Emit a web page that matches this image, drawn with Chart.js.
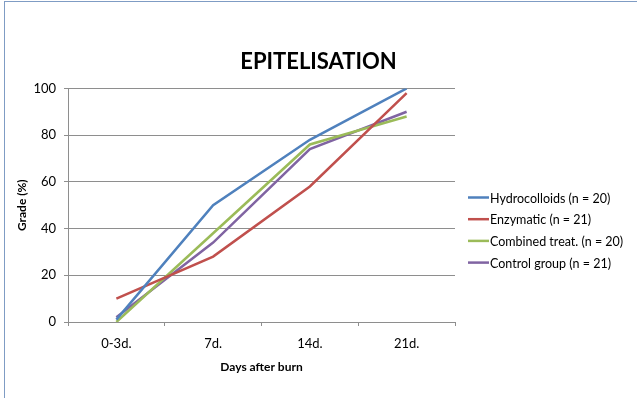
<!DOCTYPE html>
<html lang="en">
<head>
    <meta charset="UTF-8">
    <script src="https://cdn.jsdelivr.net/npm/chart.js@4"></script>
    <title>Epitelisation</title>
    <style>
        body {
            margin: 0;
            background: #ffffff;
            overflow: hidden;
        }
        .frame {
            position: absolute;
            left: 4px;
            top: 1px;
            width: 700px;
            height: 500px;
            border-left: 1px solid #7f9cc4;
            border-top: 1px solid #7f9cc4;
        }
        .chart-container {
            position: absolute;
            left: 0;
            top: 0;
            width: 637px;
            height: 398px;
        }
    </style>
</head>
<body>
    <div class="frame"></div>
    <div class="chart-container">
        <canvas id="myChart"></canvas>
    </div>

    <script>
        // data
        const days = ['0-3d.', '7d.', '14d.', '21d.'];
        const hydrocolloids = [1, 50, 78, 100];
        const enzymatic = [10, 28, 58, 98];
        const combined = [0, 38, 76, 88];
        const control = [2, 34, 74, 90];

        const seriesNames = ['Hydrocolloids (n = 20)', 'Enzymatic (n = 21)', 'Combined treat. (n = 20)', 'Control group (n = 21)'];
        const seriesColors = ['#4f81bd', '#c0504d', '#9bbb59', '#8064a2'];

        const fontFamily = 'Lato, "Open Sans", sans-serif';
        const gridGrey = '#8e8e8e';

        const data = {
            labels: days,
            datasets: [hydrocolloids, enzymatic, combined, control].map(function(vals, i) {
                return {
                    label: seriesNames[i],
                    data: vals,
                    borderColor: seriesColors[i],
                    backgroundColor: seriesColors[i],
                    borderWidth: 2.5,
                    pointRadius: 0,
                    tension: 0
                };
            })
        };

        // legend drawn to the right of the plot, like the office one
        const sideLegend = {
            id: 'sideLegend',
            afterDraw: function(chart) {
                const ctx = chart.ctx;
                const area = chart.chartArea;
                const x0 = area.right + 13;
                const y0 = 197.5;
                const rowH = 21.7;
                ctx.save();
                ctx.font = '12.5px ' + fontFamily;
                ctx.textBaseline = 'middle';
                ctx.textAlign = 'left';
                chart.data.datasets.forEach(function(ds, i) {
                    const y = y0 + i * rowH;
                    ctx.strokeStyle = ds.borderColor;
                    ctx.lineWidth = 2.5;
                    ctx.beginPath();
                    ctx.moveTo(x0, y);
                    ctx.lineTo(x0 + 21, y);
                    ctx.stroke();
                    ctx.fillStyle = '#000';
                    ctx.fillText(ds.label, x0 + 22, y + 1);
                });
                ctx.restore();
            }
        };

        const options = {
            responsive: true,
            maintainAspectRatio: false,
            animation: false,
            layout: {
                padding: 0
            },
            scales: {
                x: {
                    offset: true,
                    grid: {
                        offset: true,
                        drawOnChartArea: false,
                        drawTicks: true,
                        tickLength: 4,
                        color: gridGrey
                    },
                    border: { color: gridGrey },
                    ticks: {
                        color: '#000',
                        padding: 10,
                        maxRotation: 0,
                        font: { family: fontFamily, size: 13 }
                    },
                    title: {
                        display: true,
                        text: 'Days after burn',
                        color: '#000',
                        padding: { top: 0, bottom: 24 },
                        font: { family: fontFamily, size: 12, weight: 'bold' }
                    },
                    afterFit: function(scale) { scale.height = 76; }
                },
                y: {
                    min: 0,
                    max: 100,
                    grid: {
                        color: gridGrey,
                        tickLength: 4
                    },
                    border: { color: gridGrey },
                    ticks: {
                        stepSize: 20,
                        color: '#000',
                        padding: 8,
                        font: { family: fontFamily, size: 13 }
                    },
                    title: {
                        display: true,
                        text: 'Grade (%)',
                        color: '#000',
                        padding: { top: 15, bottom: 0 },
                        font: { family: fontFamily, size: 12, weight: 'bold' }
                    },
                    afterFit: function(scale) { scale.width = 68; }
                },
                // empty axis that only keeps room for the legend
                side: {
                    position: 'right',
                    grid: { display: false },
                    border: { display: false },
                    ticks: { display: false },
                    afterFit: function(scale) { scale.width = 182; }
                }
            },
            plugins: {
                title: {
                    display: true,
                    text: 'EPITELISATION',
                    color: '#000',
                    padding: { top: 49, bottom: 13 },
                    font: { family: fontFamily, size: 22, weight: 'bold' }
                },
                legend: { display: false },
                tooltip: { enabled: false }
            }
        };

        const myChart = new Chart(document.getElementById('myChart'), {
            type: 'line',
            data: data,
            options: options,
            plugins: [sideLegend]
        });
    </script>
</body>
</html>
